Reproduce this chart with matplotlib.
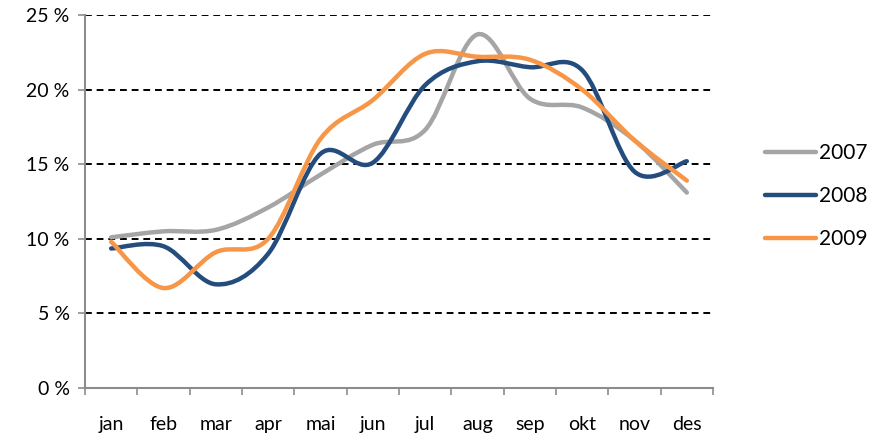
import numpy as np
import matplotlib.pyplot as plt
from matplotlib.path import Path
from matplotlib.patches import PathPatch
from matplotlib.lines import Line2D

months = ['jan', 'feb', 'mar', 'apr', 'mai', 'jun', 'jul', 'aug', 'sep', 'okt', 'nov', 'des']
y2007 = [10.1, 10.5, 10.6, 12.1, 14.3, 16.3, 17.3, 23.7, 19.4, 18.8, 16.6, 13.1]
y2008 = [9.35, 9.5, 6.95, 9.0, 15.7, 15.1, 20.3, 21.9, 21.5, 21.3, 14.5, 15.2]
y2009 = [9.8, 6.7, 9.1, 10.0, 16.7, 19.3, 22.4, 22.2, 22.0, 20.0, 16.6, 13.9]

series = [('2007', y2007, '#A5A5A5'),
          ('2008', y2008, '#244D7E'),
          ('2009', y2009, '#F79646')]


def smooth_path(x, y):
    # Excel-like smoothed line: Catmull-Rom as cubic Bezier segments
    x = np.asarray(x, float)
    y = np.asarray(y, float)
    px = np.concatenate([[x[0]], x, [x[-1]]])
    py = np.concatenate([[y[0]], y, [y[-1]]])
    verts = [(x[0], y[0])]
    codes = [Path.MOVETO]
    for i in range(1, len(x)):
        p0 = (px[i - 1], py[i - 1])
        p1 = (px[i], py[i])
        p2 = (px[i + 1], py[i + 1])
        p3 = (px[i + 2], py[i + 2])
        c1 = (p1[0] + (p2[0] - p0[0]) / 6, p1[1] + (p2[1] - p0[1]) / 6)
        c2 = (p2[0] - (p3[0] - p1[0]) / 6, p2[1] - (p3[1] - p1[1]) / 6)
        verts += [c1, c2, p2]
        codes += [Path.CURVE4] * 3
    return Path(verts, codes)


plt.rcParams['font.family'] = ['Lato', 'DejaVu Sans']

fig = plt.figure(figsize=(8.7, 4.46), dpi=100)
ax = fig.add_axes([85 / 870, 58 / 446, 628 / 870, 373 / 446])

x = np.arange(len(months))
handles = []
for name, vals, col in series:
    patch = PathPatch(smooth_path(x, vals), facecolor='none', edgecolor=col,
                      lw=3.2, capstyle='round', joinstyle='round', zorder=3)
    ax.add_patch(patch)
    handles.append(Line2D([], [], color=col, lw=3.2, solid_capstyle='round', label=name))

ax.set_xlim(-0.5, len(months) - 0.5)
ax.set_ylim(0, 25)

for g in [5, 10, 15, 20, 25]:
    ax.axhline(g, color='black', lw=1.4, ls=(0, (3.5, 2.5)), zorder=1)

ax.set_yticks([0, 5, 10, 15, 20, 25])
ax.set_yticklabels(['%d %%' % v for v in [0, 5, 10, 15, 20, 25]], fontsize=14)
ax.set_xticks(np.arange(-0.5, len(months), 1))
ax.set_xticklabels([])
ax.set_xticks(x, minor=True)
ax.set_xticklabels(months, minor=True, fontsize=14)
ax.tick_params(axis='x', which='minor', length=0, pad=20)
ax.tick_params(axis='x', which='major', length=5, color='#8C8C8C', width=1.2)
ax.tick_params(axis='y', length=5, color='#8C8C8C', width=1.2, pad=6)

for s in ['top', 'right']:
    ax.spines[s].set_visible(False)
for s in ['left', 'bottom']:
    ax.spines[s].set_color('#8C8C8C')
    ax.spines[s].set_linewidth(1.5)

fig.legend(handles=handles, loc='center left', bbox_to_anchor=(748 / 870, 1 - 196 / 446),
           frameon=False, fontsize=15, handlelength=2.45, handletextpad=0.15,
           labelspacing=1.1, borderpad=0.3)

fig.savefig('out.png', dpi=100)
